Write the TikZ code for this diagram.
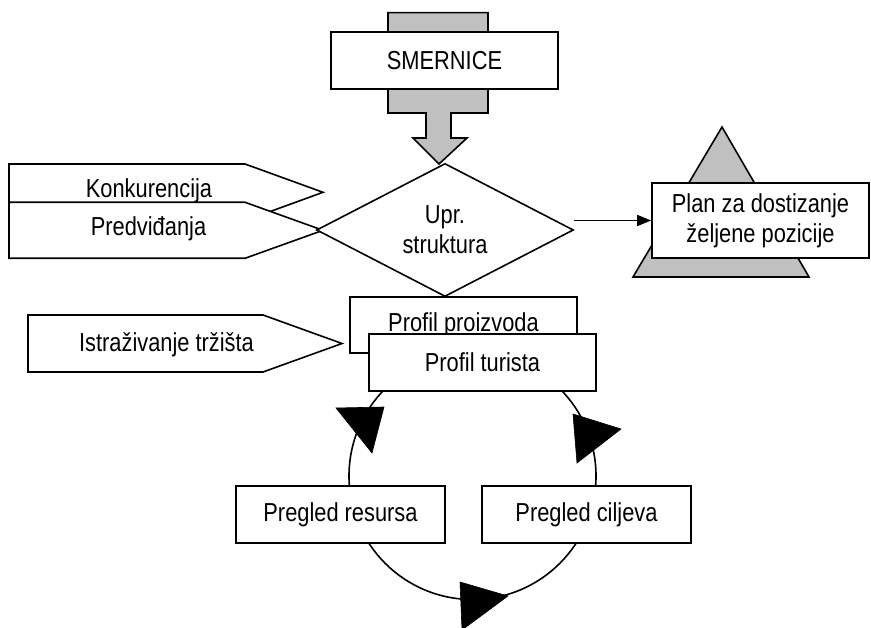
\documentclass[tikz,border=0pt]{standalone}
\usepackage{fontspec}
\setmainfont{Liberation Sans}[FakeStretch=0.84]
\usetikzlibrary{shapes.geometric,arrows.meta}
\definecolor{shade}{RGB}{192,192,192}
\begin{document}
\begin{tikzpicture}[x=1pt,y=-1pt,
  line width=1.6pt,
  every node/.style={font=\fontsize{26}{30}\selectfont},
  box/.style={draw,fill=white,rectangle,inner sep=0pt,minimum height=57pt},
  tag/.style={draw,fill=white,line join=miter},
  label/.style={anchor=base,inner sep=0pt},
  head/.style={fill=black,draw=black,line width=0.6pt,line join=miter}]
\useasboundingbox (0,0) rectangle (871,628);

% cycle of reviews
\coordinate (hub) at (472.5,476);
\draw (hub) circle[radius=123.5];
\fill[head] (336,408) -- (384,407) -- (372,453) -- cycle;
\fill[head] (573,414) -- (621,429) -- (577,463) -- cycle;
\fill[head] (460,582) -- (508,596) -- (462,630) -- cycle;

% guideline arrow and its box
\draw[fill=shade,line join=miter] (388,12.7) -- (488,12.7) -- (488,113) -- (451,113)
  -- (451,138) -- (467,138) -- (439,164) -- (413,138) -- (426,138) -- (426,113)
  -- (388,113) -- cycle;
\node[box,minimum width=227pt] (smer) at (444.5,60.5) {SMERNICE};

% inputs on the left
\draw[tag] (9,164) -- (245,164) -- (323,192.3) -- (245,220.7) -- (9,220.7) -- cycle;
\node[label] (konk) at (149,198) {Konkurencija};
\draw[tag] (9,202.3) -- (245,202.3) -- (323,230.3) -- (245,258.3) -- (9,258.3) -- cycle;
\node[label] (pred) at (148.5,235.5) {Predviđanja};
\draw[tag] (28,315) -- (263,315) -- (342,343.5) -- (263,372) -- (28,372) -- cycle;
\node[label] (istr) at (166.5,352) {Istraživanje tržišta};

% decision
\node[diamond,draw,fill=white,inner sep=0pt,minimum width=257pt,minimum height=130pt,
  align=center] (upr) at (445,230) {Upr.\\struktura};

% goal
\draw[fill=shade,line join=miter] (722,127) -- (809,277) -- (633,277) -- cycle;
\node[box,minimum width=217pt,minimum height=75pt,align=center] (plan) at (760.5,220.5)
  {Plan za dostizanje\\željene pozicije};
\draw[-{Triangle[length=14pt,width=11pt]}] (upr.east |- plan.west) -- (plan.west);

% profiles
\node[box,minimum width=227pt,minimum height=56pt] (proiz) at (463.5,325) {\raisebox{4pt}{Profil proizvoda}};
\node[box,minimum width=227pt] (tur) at (482.5,362.5) {Profil turista};

% reviews
\node[box,minimum width=209pt] (res) at (340.5,514.5) {Pregled resursa};
\node[box,minimum width=209pt] (cilj) at (586.5,514.5) {Pregled ciljeva};
\end{tikzpicture}
\end{document}
